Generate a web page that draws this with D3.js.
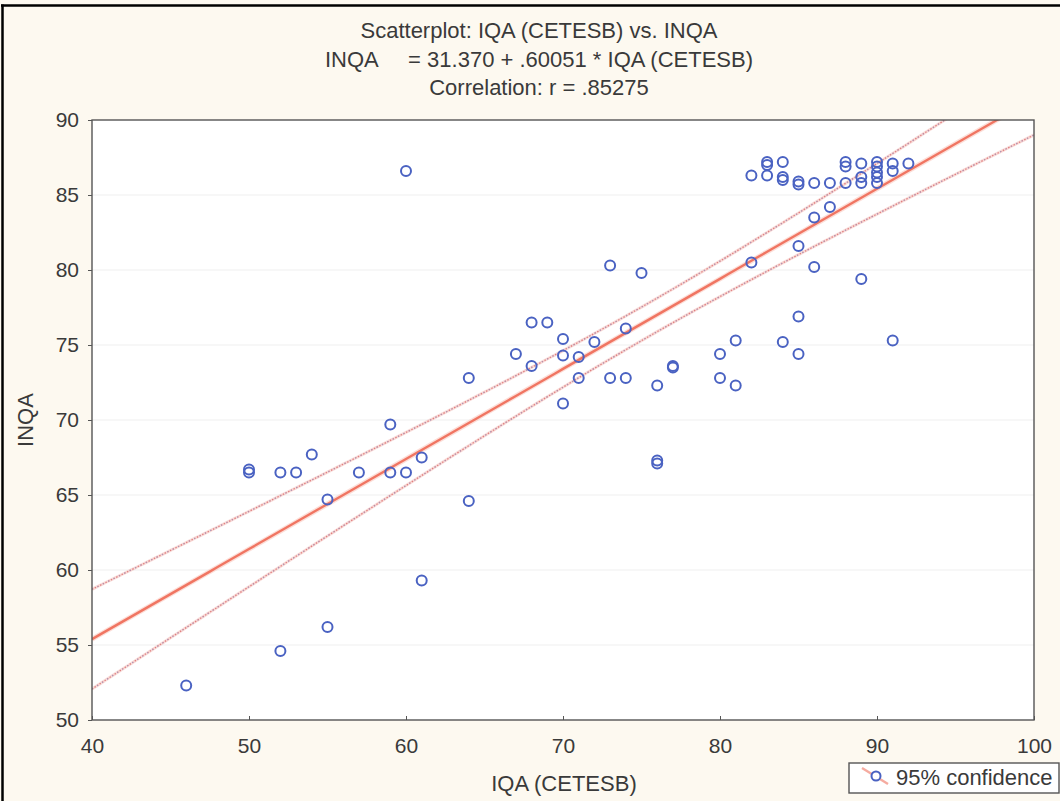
<!DOCTYPE html>
<html><head><meta charset="utf-8">
<script src="https://cdn.jsdelivr.net/npm/d3@7"></script>
<style>
html,body{margin:0;padding:0;background:#fdf9f0;}
svg{display:block;font-family:"Liberation Sans",Arial,sans-serif;}
</style></head>
<body><svg id="c" width="1060" height="801"></svg>
<script>
// Data
const iqa  = [46,50,50,52,53,54,55,57,59,59,60,61,64,61,52,55,60,
              73,75,68,69,74,70,72,67,70,71,68,77,77,80,64,71,73,74,76,80,70,81,81,76,76,
              85,82,86,89,85,84,85,91,86,87,
              83,83,84,88,88,89,90,90,91,92,82,83,84,84,85,85,86,87,88,89,89,90,90,90,91];
const inqa = [52.3,66.5,66.7,66.5,66.5,67.7,64.7,66.5,69.7,66.5,66.5,67.5,64.6,59.3,54.6,56.2,86.6,
              80.3,79.8,76.5,76.5,76.1,75.4,75.2,74.4,74.3,74.2,73.6,73.5,73.6,74.4,72.8,72.8,72.8,72.8,72.3,72.8,71.1,72.3,75.3,67.3,67.1,
              81.6,80.5,80.2,79.4,76.9,75.2,74.4,75.3,83.5,84.2,
              87.2,87.0,87.2,87.2,86.9,87.1,87.2,86.9,87.1,87.1,86.3,86.3,86.2,86.0,85.9,85.7,85.8,85.8,85.8,86.2,85.8,86.5,86.2,85.8,86.6];
const intercept = 31.370, slope = 0.60051;
const xTicks = [40,50,60,70,80,90,100];
const yTicks = [50,55,60,65,70,75,80,85,90];
const titleLines = ["Scatterplot: IQA (CETESB) vs. INQA",
                    "INQA     = 31.370 + .60051 * IQA (CETESB)",
                    "Correlation: r = .85275"];
const xLabel = "IQA (CETESB)", yLabel = "INQA", legendLabel = "95% confidence";

const svg = d3.select("#c");
const W = 1060, H = 801;
const L = 92, R = 1034, T = 120, B = 720;
const x = d3.scaleLinear().domain([40,100]).range([L,R]);
const y = d3.scaleLinear().domain([50,90]).range([B,T]);
const FONT = "Liberation Sans, Arial, sans-serif";
const TXT = "#3a3a3a";

svg.append("rect").attr("x",0).attr("y",0).attr("width",W).attr("height",H).attr("fill","#fdf9f0");
// outer black frame (top and left visible)
svg.append("line").attr("x1",1).attr("x2",W).attr("y1",5.5).attr("y2",5.5).attr("stroke","#000").attr("stroke-width",2.5);
svg.append("line").attr("x1",2.5).attr("x2",2.5).attr("y1",4.5).attr("y2",H).attr("stroke","#000").attr("stroke-width",2.5);

// plot background
svg.append("rect").attr("x",L).attr("y",T).attr("width",R-L).attr("height",B-T).attr("fill","#fff");

// gridlines
svg.append("g").selectAll("line").data(yTicks.slice(1,-1)).join("line")
  .attr("x1",L).attr("x2",R).attr("y1",d=>y(d)).attr("y2",d=>y(d))
  .attr("stroke","#efefef").attr("stroke-width",1);

// clip
svg.append("clipPath").attr("id","clip").append("rect").attr("x",L).attr("y",T).attr("width",R-L).attr("height",B-T);
const plot = svg.append("g").attr("clip-path","url(#clip)");

// confidence bands from data
const n = iqa.length;
const mx = d3.mean(iqa);
const sxx = d3.sum(iqa, v => (v-mx)*(v-mx));
const sse = d3.sum(iqa, (v,i) => { const r = inqa[i] - (intercept + slope*v); return r*r; });
const s = Math.sqrt(sse/(n-2));
const tval = 1.99;
const xs = d3.range(40, 100.01, 0.5);
const fit = v => intercept + slope*v;
const hw = v => tval*s*Math.sqrt(1/n + (v-mx)*(v-mx)/sxx);
const line = d3.line().x(d=>x(d[0])).y(d=>y(d[1]));

[1,-1].forEach(sg => {
  const pts = xs.map(v=>[v, fit(v)+sg*hw(v)]);
  plot.append("path").datum(pts)
    .attr("d",line).attr("fill","none").attr("stroke","#f4c4c0").attr("stroke-width",3).attr("opacity",0.6);
  plot.append("path").datum(pts)
    .attr("d",line).attr("fill","none").attr("stroke","#e07f80").attr("stroke-width",1.3)
    .attr("stroke-dasharray","1.5,1.5");
  plot.append("path").datum(pts)
    .attr("d",line).attr("fill","none").attr("stroke","#8aa2d8").attr("stroke-width",1.2)
    .attr("stroke-dasharray","1,5").attr("opacity",0.7);
});
plot.append("path").datum(xs.map(v=>[v, fit(v)]))
  .attr("d",line).attr("fill","none").attr("stroke","#fbd0c8").attr("stroke-width",5).attr("opacity",0.7);
plot.append("path").datum(xs.map(v=>[v, fit(v)]))
  .attr("d",line).attr("fill","none").attr("stroke","#f07562").attr("stroke-width",2.4);

// points
plot.append("g").selectAll("circle").data(iqa.map((v,i)=>[v,inqa[i]])).join("circle")
  .attr("cx",d=>x(d[0])).attr("cy",d=>y(d[1])).attr("r",5)
  .attr("fill","none").attr("stroke","#4a62c2").attr("stroke-width",2);

// frame
svg.append("rect").attr("x",L).attr("y",T).attr("width",R-L).attr("height",B-T)
  .attr("fill","none").attr("stroke","#555").attr("stroke-width",1.4);

// axes
const xAxis = svg.append("g").attr("transform",`translate(0,${B})`)
  .call(d3.axisBottom(x).tickValues(xTicks).tickSize(-4).tickPadding(18).tickFormat(d3.format("d")));
const yAxis = svg.append("g").attr("transform",`translate(${L},0)`)
  .call(d3.axisLeft(y).tickValues(yTicks).tickSize(4).tickPadding(10).tickFormat(d3.format("d")));
[xAxis,yAxis].forEach(g=>{
  g.select(".domain").remove();
  g.selectAll("line").attr("stroke","#555");
  g.selectAll("text").attr("fill",TXT).style("font-size","21px").style("font-family",FONT);
});
yAxis.selectAll("text").attr("x",-13);

// titles
svg.append("g").selectAll("text").data(titleLines).join("text")
  .attr("x",539).attr("y",(d,i)=>38+i*28.5).attr("text-anchor","middle")
  .attr("fill",TXT).style("font-size","22px").style("font-family",FONT).attr("xml:space","preserve")
  .style("white-space","pre")
  .text(d=>d);

svg.append("text").attr("x",564).attr("y",791).attr("text-anchor","middle")
  .attr("fill",TXT).style("font-size","22px").style("font-family",FONT).text(xLabel);
svg.append("text").attr("transform",`translate(33,${(T+B)/2}) rotate(-90)`).attr("text-anchor","middle")
  .attr("fill",TXT).style("font-size","22px").style("font-family",FONT).text(yLabel);

// legend
const lg = svg.append("g");
lg.append("rect").attr("x",849).attr("y",763).attr("width",210).attr("height",30)
  .attr("fill","#fff").attr("stroke","#555").attr("stroke-width",1.4);
lg.append("line").attr("x1",862).attr("y1",768).attr("x2",888).attr("y2",784)
  .attr("stroke","#f07562").attr("stroke-width",2.4).attr("opacity",0.6);
lg.append("circle").attr("cx",876).attr("cy",776).attr("r",4.5)
  .attr("fill","#fff").attr("stroke","#4a62c2").attr("stroke-width",2);
lg.append("text").attr("x",896).attr("y",785).attr("fill",TXT)
  .style("font-size","22px").style("font-family",FONT).text(legendLabel);
</script></body></html>
